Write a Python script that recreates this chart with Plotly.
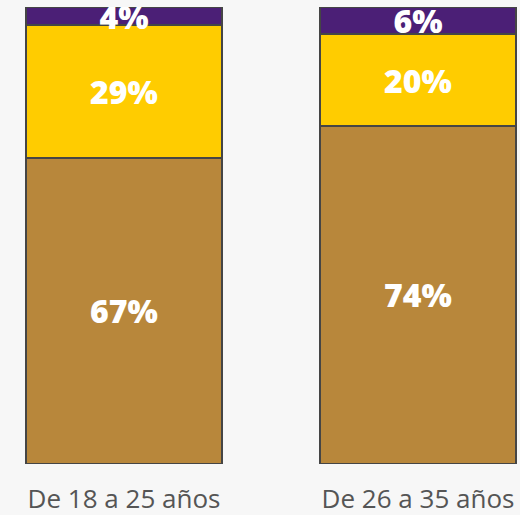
import plotly.graph_objects as go

categories = ["De 18 a 25 años", "De 26 a 35 años"]
brown_vals = [67, 74]
yellow_vals = [29, 20]
purple_vals = [4, 6]

colors = {"brown": "#B8873B", "yellow": "#FFCC00", "purple": "#4B1F76"}

fig = go.Figure()
for name, vals in [("brown", brown_vals), ("yellow", yellow_vals), ("purple", purple_vals)]:
    fig.add_trace(go.Bar(
        x=categories, y=vals, width=0.667,
        marker=dict(color=colors[name], line=dict(color="#454545", width=2)),
        text=[f"{v}%" for v in vals],
        textposition="inside", insidetextanchor="middle",
        textfont=dict(family="Open Sans", size=32, color="white", weight=800),
        constraintext="none", cliponaxis=True, showlegend=False,
        hoverinfo="skip",
    ))

fig.update_layout(
    barmode="stack",
    width=520, height=515,
    margin=dict(l=0, r=0, t=7, b=51, autoexpand=False),
    paper_bgcolor="#F7F7F7", plot_bgcolor="#F7F7F7",
    uniformtext=dict(minsize=32, mode="show"),
    xaxis=dict(range=[-0.4218, 1.3469], showgrid=False, zeroline=False, showline=False,
               ticks="", ticklabelstandoff=17, automargin=False,
               tickfont=dict(family="Open Sans", size=26, color="#555555")),
    yaxis=dict(range=[0, 100], visible=False, automargin=False),
)

fig.write_html("out.html", config={"displayModeBar": False},
               post_script="document.body.style.margin='0';document.body.style.background='#F7F7F7';")
